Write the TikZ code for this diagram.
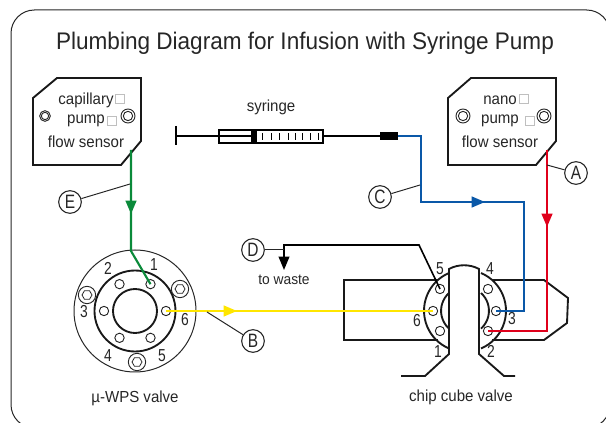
\documentclass[tikz,border=0pt]{standalone}
\usepackage{fontspec}
\setmainfont[FakeStretch=0.94]{Liberation Sans}
\newfontfamily\narrowfont[FakeStretch=0.8]{Liberation Sans}
\usetikzlibrary{arrows.meta}
\usetikzlibrary{calc}
\usetikzlibrary{shapes.geometric}
\definecolor{pipegreen}{HTML}{0A8A3A}
\definecolor{pipeblue}{HTML}{0A58A8}
\definecolor{pipered}{HTML}{E0001B}
\definecolor{pipeyellow}{HTML}{FFE600}
\definecolor{inkgrey}{HTML}{262626}
\tikzset{%
  outline/.style = {draw=black!90,line width=1.4pt,line join=miter},
  thinline/.style = {draw=black!85,line width=0.75pt},
  pipe/.style = {line width=1.6pt,line join=miter},
  flowtip/.style = {-{Triangle[length=10pt,width=8pt]}},
  port/.style = {circle,draw=black!85,line width=0.7pt,minimum size=7pt,inner sep=0pt},
  callout/.style = {circle,draw=black!85,line width=0.8pt,minimum size=17pt,inner sep=0pt,
        font=\narrowfont\fontsize{14.5}{14.5}\selectfont,text=inkgrey},
  txt/.style = {text=inkgrey,inner sep=0pt,font=\fontsize{12}{14}\selectfont},
  num/.style = {text=inkgrey,inner sep=0pt,font=\narrowfont\fontsize{13}{14}\selectfont},
  tickbox/.style = {draw=black!25,line width=0.5pt,minimum size=6.5pt,inner sep=0pt},
  screwring/.style = {circle,draw=black!85,line width=0.7pt,minimum size=10.5pt,inner sep=0pt},
  screwcore/.style = {circle,draw=black!85,line width=0.7pt,minimum size=7pt,inner sep=0pt},
  screwhex/.style = {regular polygon,regular polygon sides=6,draw=black!85,line width=0.6pt,
        minimum size=7.5pt,inner sep=0pt}
}

\begin{document}
\begin{tikzpicture}[x=0.75pt,y=-0.75pt]
   \useasboundingbox (0,0) rectangle (606,423);
   \clip (0,0) rectangle (606,423);
   \draw[thinline,rounded corners=17.5pt] (11,10) rectangle (610,428);

   \node[inner sep=0pt,text=inkgrey,font=\fontsize{18}{22}\selectfont] (title) at (305,43)
        {Plumbing Diagram for Infusion with Syringe Pump};

   % flow sensors
   \draw[outline] (57,78) -- (141,78) -- (141,141) -- (121,165) -- (33,165) -- (33,98) -- cycle;
   \draw[outline] (471,78) -- (556,78) -- (556,141) -- (536,165) -- (448,165) -- (448,98) -- cycle;
   \node[txt] (cap) at (86,100) {capillary};
   \node[tickbox] (capbox) at (120,99) {};
   \node[txt] (pumpl) at (86,121) {pump};
   \node[tickbox] (pumplbox) at (112,121) {};
   \node[txt] (flowl) at (86,142) {flow sensor};
   \node[txt] (nano) at (500,100) {nano};
   \node[tickbox] (nanobox) at (524,99) {};
   \node[txt] (pumpr) at (500,121) {pump};
   \node[tickbox] (pumprbox) at (530,121) {};
   \node[txt] (flowr) at (500,142) {flow sensor};
   \node[screwring,minimum size=8pt] (sa) at (45,116) {};
   \node[screwcore,minimum size=5.5pt] at (45,116) {};
   \foreach \name/\x/\y in {sb/128/116,sc/463/116,sd/544/116} {
      \node[screwring] (\name) at (\x,\y) {};
      \node[screwcore] at (\x,\y) {};
   }

   % syringe
   \node[txt] (syringe) at (271,107) {syringe};
   \coordinate (handle) at (176,136);
   \draw[line width=1.8pt] (176,126) -- (176,145);
   \node[draw=black,line width=1.4pt,minimum width=78pt,minimum height=9.75pt,inner sep=0pt] (barrel) at (271,136.5) {};
   \node[fill=black,minimum width=4.5pt,minimum height=9.75pt,inner sep=0pt] (plunger) at (254,136.5) {};
   \node[fill=black,minimum width=13.5pt,minimum height=6pt,inner sep=0pt] (fitting) at (389,136) {};
   \draw[line width=1.2pt] (handle) -- (plunger.west |- handle);
   \draw[line width=1.2pt] (barrel.east |- handle) -- (fitting.west);
   \foreach \x in {262,271,279,288,295,302,310,318}
      \draw[line width=0.5pt] (\x,133) -- (\x,140);

   % wps valve
   \coordinate (wps) at (135,311);
   \draw[thinline] (wps) circle[radius=61];
   \draw[outline] (wps) circle[radius=40.5];
   \draw[outline] (wps) circle[radius=22];
   \foreach \name/\ang in {w1/60,w2/120,w3/180,w4/240,w5/300,w6/0}
      \node[port] (\name) at ($(wps)+(-\ang:31)$) {};
   \foreach \name/\x/\y in {se/87/295,sf/180/289,sg/137/362} {
      \node[screwring,minimum size=13pt] (\name) at (\x,\y) {};
      \node[screwhex] at (\x,\y) {};
   }
   \foreach \t/\x/\y in {1/154/265,2/108/268,3/84/312,4/108/356,5/162/356,6/185/320}
      \node[num] (wn\t) at (\x,\y) {\t};
   \node[txt] (wpslabel) at (135,398) {µ-WPS valve};

   % chip cube valve
   \coordinate (chip) at (465,311);
   \draw[outline] (438,280) -- (344,280) -- (344,340) -- (438,340);
   \draw[outline] (492,280) -- (544,280) -- (568,298) -- (567,323) -- (544,340) -- (492,340);
   \draw[outline] (449,273) arc[start angle=247,end angle=113,radius=41];
   \draw[outline] (481,273) arc[start angle=-67,end angle=67,radius=41];
   \draw[outline] (449,293) arc[start angle=228,end angle=132,radius=24];
   \draw[outline] (481,293) arc[start angle=-48,end angle=48,radius=24];
   \draw[outline] (401,376) -- (425,376) -- (449,354) -- (449,269)
        .. controls (458,264) and (470,264) .. (479,269) -- (479,354) -- (504,376) -- (515,376);
   \foreach \name/\x/\y in {c5/440/289,c6/433/311,c1/440/331,c4/488/289,c3/496/311,c2/488/331}
      \node[port] (\name) at (\x,\y) {};
   \foreach \t/\x/\y in {5/440/269,4/490/269,6/417/321,3/512/319,1/438/352,2/491/351}
      \node[num] (cn\t) at (\x,\y) {\t};
   \node[txt] (chiplabel) at (461,397) {chip cube valve};

   % pipes
   \coordinate (gstart) at (131,150);
   \coordinate (gtip) at (131,214);
   \coordinate (gbend) at (131,251);
   \draw[pipe,draw=pipegreen] (gstart) -- (gbend) -- (w1.center);
   \draw[pipe,draw=pipegreen,flowtip] (gstart) -- (gtip);

   \coordinate (bturn) at (421,136);
   \coordinate (bturnb) at (421,202);
   \coordinate (btip) at (485,202);
   \coordinate (bturnc) at (524,202);
   \coordinate (bturnd) at (524,311);
   \draw[pipe,draw=pipeblue] (fitting.east) -- (bturn) -- (bturnb) -- (bturnc) -- (bturnd) -- (c3.center);
   \draw[pipe,draw=pipeblue,flowtip] (bturnb) -- (btip);

   \coordinate (rstart) at (547,150);
   \coordinate (rtip) at (547,227);
   \coordinate (rturn) at (547,331);
   \draw[pipe,draw=pipered] (rstart) -- (rturn) -- (c2.center);
   \draw[pipe,draw=pipered,flowtip] (rstart) -- (rtip);

   \coordinate (ytip) at (237,311);
   \draw[pipe,draw=pipeyellow] (w6.center) -- (c6.center);
   \draw[pipe,draw=pipeyellow,flowtip] (w6.center) -- (ytip);

   % waste line
   \node[callout] (D) at (253,250) {D};
   \coordinate (wa) at (284,250);
   \coordinate (wb) at (284,245);
   \coordinate (wc) at (419,245);
   \coordinate (wtip) at (284,270);
   \draw[line width=1.2pt] (wa) -- (wb) -- (wc) -- (c5.center);
   \draw[thinline] (D) -- (wa);
   \draw[line width=1.2pt,flowtip] (wa) -- (wtip);
   \node[txt,font=\fontsize{11}{13}\selectfont] (waste) at (284,280) {to waste};

   % callouts
   \node[callout] (A) at (576,173) {A};
   \node[callout] (B) at (253,341) {B};
   \node[callout] (C) at (380,197) {C};
   \node[callout] (E) at (70,202) {E};
   \coordinate (aend) at (547,165);
   \coordinate (bend) at (207,312);
   \coordinate (cend) at (420,185);
   \coordinate (eend) at (130,184);
   \draw[thinline] (A) -- (aend);
   \draw[thinline] (B) -- (bend);
   \draw[thinline] (C) -- (cend);
   \draw[thinline] (E) -- (eend);
\end{tikzpicture}
\end{document}
